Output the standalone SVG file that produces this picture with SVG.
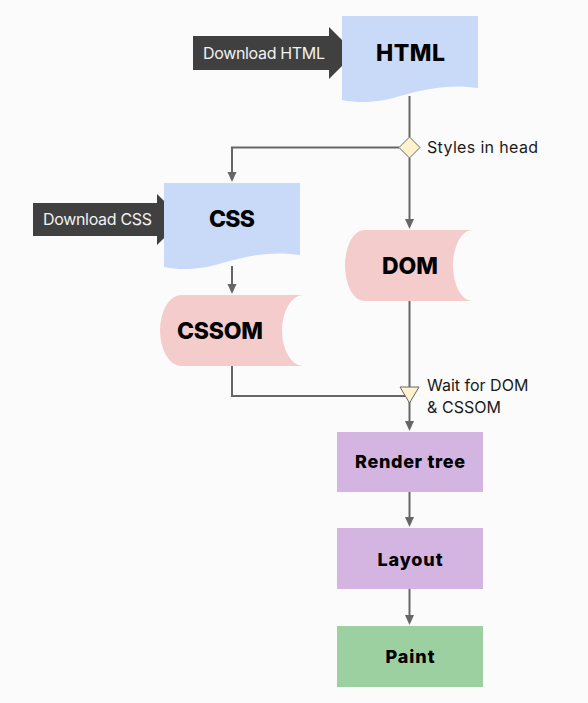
<svg xmlns="http://www.w3.org/2000/svg" width="588" height="703" viewBox="0 0 588 703">
<style>
.bg{fill:#fbfbfb}
.doc{fill:#c9daf8}
.store{fill:#f4cccc}
.proc{fill:#d4b4e0}
.paint{fill:#9dd0a0}
.dl{fill:#404040}
.dlt{font-family:Inter,"Noto Sans",sans-serif;font-size:16px;fill:#f2f2f2}
.lbl{font-family:Inter,"Noto Sans",sans-serif;font-size:16px;fill:#1a1a1a}
.big{font-family:Inter,"Noto Sans",sans-serif;font-size:23px;font-weight:800;fill:#000;text-anchor:middle}
.mid{font-family:Inter,"Noto Sans",sans-serif;font-size:18px;font-weight:800;fill:#000;text-anchor:middle}
.ln{fill:none;stroke:#666;stroke-width:2}
.ah{fill:#666}
.gate{fill:#fff2cc;stroke:#666;stroke-width:1}
</style>
<rect class="bg" x="0" y="0" width="588" height="703"/>
<g id="connectors">
  <path class="ln" d="M409.5,96 V137"/>
  <path class="ln" d="M399,147.5 H232 V173"/>
  <polygon class="ah" points="227.5,172 236.5,172 232,182"/>
  <path class="ln" d="M409.5,158 V220"/>
  <polygon class="ah" points="405,219 414,219 409.5,229"/>
  <path class="ln" d="M232,266 V284"/>
  <polygon class="ah" points="227.5,284 236.5,284 232,294"/>
  <path class="ln" d="M409.5,301 V388"/>
  <path class="ln" d="M232,366 V396 H405"/>
  <path class="ln" d="M409.5,402 V421"/>
  <polygon class="ah" points="405,421 414,421 409.5,431"/>
  <path class="ln" d="M409.5,492 V517"/>
  <polygon class="ah" points="405,517 414,517 409.5,527"/>
  <path class="ln" d="M409.5,589 V615"/>
  <polygon class="ah" points="405,615 414,615 409.5,625"/>
</g>
<g id="download-html">
  <polygon class="dl" points="193,36 329,36 329,27 355,53 329,79 329,70 193,70"/>
  <text class="dlt" x="203" y="58.5" textLength="122">Download HTML</text>
</g>
<g id="html">
  <path class="doc" d="M342,16 H478 V88 C452,84 428,88 404,95 C382,102 362,104 342,100 Z"/>
  <text class="big" x="410.5" y="61" textLength="69">HTML</text>
</g>
<g id="styles-in-head">
  <polygon class="gate" points="409.5,137 420,147.5 409.5,158 399,147.5"/>
  <text class="lbl" x="427" y="153" textLength="111">Styles in head</text>
</g>
<g id="download-css">
  <polygon class="dl" points="33,203 157,203 157,194 183,219.5 157,245 157,236 33,236"/>
  <text class="dlt" x="43" y="225" textLength="109">Download CSS</text>
</g>
<g id="css">
  <path class="doc" d="M164,183 H300 V255 C274,251 250,255 226,262 C204,269 184,271 164,267 Z"/>
  <text class="big" x="232" y="227" textLength="46">CSS</text>
</g>
<g id="dom">
  <path class="store" d="M364,230 H472 A19,35.5 0 0 0 472,301 H364 A19,35.5 0 0 1 364,230 Z"/>
  <text class="big" x="410" y="274" textLength="56">DOM</text>
</g>
<g id="cssom">
  <path class="store" d="M181,295 H303 A21,35.5 0 0 0 303,366 H181 A21,35.5 0 0 1 181,295 Z"/>
  <text class="big" x="220" y="339" textLength="86">CSSOM</text>
</g>
<g id="wait">
  <polygon class="gate" points="400,387 419,387 409.5,403"/>
  <text class="lbl" x="427" y="390.5">Wait for DOM</text>
  <text class="lbl" x="427" y="412.5" textLength="74">&amp; CSSOM</text>
</g>
<g id="render-tree">
  <rect class="proc" x="337" y="432" width="146" height="60"/>
  <text class="mid" x="410" y="468" textLength="110">Render tree</text>
</g>
<g id="layout">
  <rect class="proc" x="337" y="528" width="146" height="61"/>
  <text class="mid" x="410" y="566" textLength="65">Layout</text>
</g>
<g id="paint">
  <rect class="paint" x="337" y="626" width="146" height="61"/>
  <text class="mid" x="410" y="663" textLength="49">Paint</text>
</g>
</svg>
